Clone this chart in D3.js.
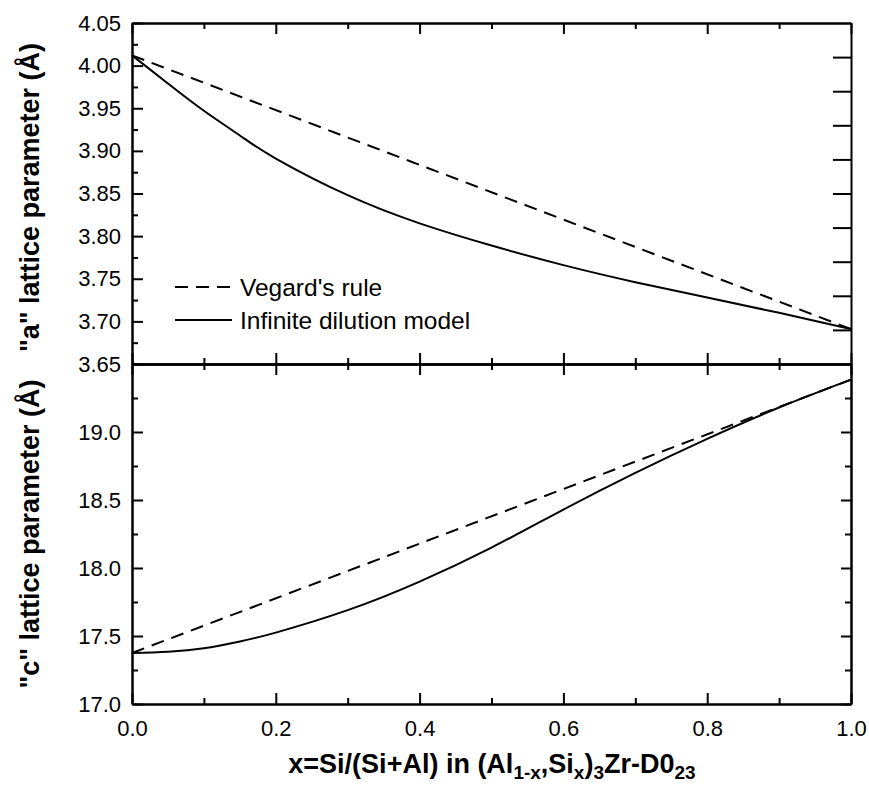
<!DOCTYPE html>
<html>
<head>
<meta charset="utf-8">
<script src="https://cdn.jsdelivr.net/npm/d3@7"></script>
<style>
  body { margin: 0; background: #fff; }
  svg { font-family: "Liberation Sans", Arial, sans-serif; }
  .domain { stroke: #000; stroke-width: 2; }
  .tick line { stroke: #000; stroke-width: 2; }
</style>
</head>
<body>
<svg width="869" height="785"></svg>
<script>
// composition x and values
var xs = [0, 0.05, 0.1, 0.15, 0.2, 0.3, 0.4, 0.5, 0.6, 0.7, 0.8, 0.9, 1.0];
var xEnds = [0, 1];
var aVegard = [4.012, 3.691];
var aDilution = [4.012, 3.979, 3.947, 3.918, 3.891, 3.848, 3.815, 3.789, 3.766, 3.746, 3.728, 3.710, 3.691];
var cVegard = [17.375, 19.385];
var cDilution = [17.375, 17.385, 17.41, 17.46, 17.525, 17.69, 17.90, 18.15, 18.43, 18.70, 18.95, 19.18, 19.385];

var xTicks = [0, 0.2, 0.4, 0.6, 0.8, 1.0];
var xMinor = [0.1, 0.3, 0.5, 0.7, 0.9];
var aTicks = [3.65, 3.70, 3.75, 3.80, 3.85, 3.90, 3.95, 4.00, 4.05];
var aMinor = [3.675, 3.725, 3.775, 3.825, 3.875, 3.925, 3.975, 4.025];
var aRight = [3.69, 3.73, 3.77, 3.81, 3.85, 3.89, 3.93, 3.97, 4.01];
var cTicks = [17.0, 17.5, 18.0, 18.5, 19.0];
var cMinor = [17.25, 17.75, 18.25, 18.75, 19.25];

var svg = d3.select('svg');

var x = d3.scaleLinear().domain([0, 1]).range([132, 851]);
var yA = d3.scaleLinear().domain([3.65, 4.05]).range([364, 23]);
var yC = d3.scaleLinear().domain([17, 19.5]).range([704, 364]);

function noLabels(ax) { return ax.tickFormat(''); }

function drawPanel(y, major, minor, rightVals, rightLen, fmt) {
    var g = svg.append('g');
    // left with labels
    g.append('g').attr('transform', 'translate(132,0)')
        .call(d3.axisLeft(y).tickValues(major).tickSizeInner(-11).tickSizeOuter(0).tickPadding(11).tickFormat(fmt))
        .call(function(s) { s.selectAll('text').attr('font-size', 22).attr('fill', '#000'); });
    g.append('g').attr('transform', 'translate(132,0)')
        .call(noLabels(d3.axisLeft(y).tickValues(minor).tickSizeInner(-6).tickSizeOuter(0)));
    // right
    g.append('g').attr('transform', 'translate(851,0)')
        .call(noLabels(d3.axisRight(y).tickValues(rightVals).tickSizeInner(-rightLen).tickSizeOuter(0)));
    if (rightLen < 15) {
        g.append('g').attr('transform', 'translate(851,0)')
            .call(noLabels(d3.axisRight(y).tickValues(minor).tickSizeInner(-6).tickSizeOuter(0)));
    }
    // top and bottom
    var top = y.range()[1], bot = y.range()[0];
    g.append('g').attr('transform', 'translate(0,' + top + ')')
        .call(noLabels(d3.axisTop(x).tickValues(xTicks).tickSizeInner(-11).tickSizeOuter(0)));
    g.append('g').attr('transform', 'translate(0,' + top + ')')
        .call(noLabels(d3.axisTop(x).tickValues(xMinor).tickSizeInner(-6).tickSizeOuter(0)));
    g.append('g').attr('transform', 'translate(0,' + bot + ')')
        .call(noLabels(d3.axisBottom(x).tickValues(xMinor).tickSizeInner(-6).tickSizeOuter(0)));
    return g;
}

drawPanel(yA, aTicks, aMinor, aRight, 18, d3.format('.2f'));
drawPanel(yC, cTicks, cMinor, cTicks, 10, d3.format('.1f'));

// top panel bottom ticks (pointing up)
svg.append('g').attr('transform', 'translate(0,364)')
    .call(noLabels(d3.axisBottom(x).tickValues(xTicks).tickSizeInner(-11).tickSizeOuter(0)));
// x axis with labels
svg.append('g').attr('transform', 'translate(0,704)')
    .call(d3.axisBottom(x).tickValues(xTicks).tickSizeInner(-11).tickSizeOuter(0).tickPadding(16).tickFormat(d3.format('.1f')))
    .call(function(s) { s.selectAll('text').attr('font-size', 22).attr('fill', '#000'); });

// curves
var lineA = d3.line().x(function(d) { return x(d[0]); }).y(function(d) { return yA(d[1]); }).curve(d3.curveNatural);
var lineC = d3.line().x(function(d) { return x(d[0]); }).y(function(d) { return yC(d[1]); }).curve(d3.curveNatural);

function pairs(xv, yv) { return xv.map(function(v, i) { return [v, yv[i]]; }); }

svg.append('path').attr('d', lineA(pairs(xEnds, aVegard)))
    .attr('fill', 'none').attr('stroke', '#000').attr('stroke-width', 2).attr('stroke-dasharray', '13,8');
svg.append('path').attr('d', lineA(pairs(xs, aDilution)))
    .attr('fill', 'none').attr('stroke', '#000').attr('stroke-width', 2);
svg.append('path').attr('d', lineC(pairs(xEnds, cVegard)))
    .attr('fill', 'none').attr('stroke', '#000').attr('stroke-width', 2).attr('stroke-dasharray', '13,8');
svg.append('path').attr('d', lineC(pairs(xs, cDilution)))
    .attr('fill', 'none').attr('stroke', '#000').attr('stroke-width', 2);

// legend
var legend = [
    { name: "Vegard's rule", dash: '13,8' },
    { name: 'Infinite dilution model', dash: null }
];
var lg = svg.append('g');
legend.forEach(function(d, i) {
    var yy = 287 + i * 33;
    lg.append('line').attr('x1', 175).attr('x2', 232).attr('y1', yy).attr('y2', yy)
        .attr('stroke', '#000').attr('stroke-width', 2).attr('stroke-dasharray', d.dash);
    lg.append('text').attr('x', 240).attr('y', yy + 9).attr('font-size', 24.5).text(d.name);
});

// axis titles
svg.append('text').attr('transform', 'translate(39,' + ((yA.range()[0] + yA.range()[1]) / 2 + 4) + ') rotate(-90)')
    .attr('text-anchor', 'middle').attr('font-size', 27).attr('font-weight', 'bold')
    .text('"a" lattice parameter (Å)');
svg.append('text').attr('transform', 'translate(39,' + ((yC.range()[0] + yC.range()[1]) / 2) + ') rotate(-90)')
    .attr('text-anchor', 'middle').attr('font-size', 27).attr('font-weight', 'bold')
    .text('"c" lattice parameter (Å)');

var xt = svg.append('text').attr('x', 492).attr('y', 773).attr('text-anchor', 'middle')
    .attr('font-size', 27).attr('font-weight', 'bold');
var parts = [
    ['x=Si/(Si+Al) in (Al', 0], ['1-x', 1], [',Si', 0], ['x', 1], [')', 0], ['3', 1], ['Zr-D0', 0], ['23', 1]
];
parts.forEach(function(p, i) {
    var t = xt.append('tspan').text(p[0]);
    if (p[1]) t.attr('font-size', 19).attr('dy', 6);
    else if (i > 0) t.attr('dy', -6);
});
</script>
</body>
</html>
